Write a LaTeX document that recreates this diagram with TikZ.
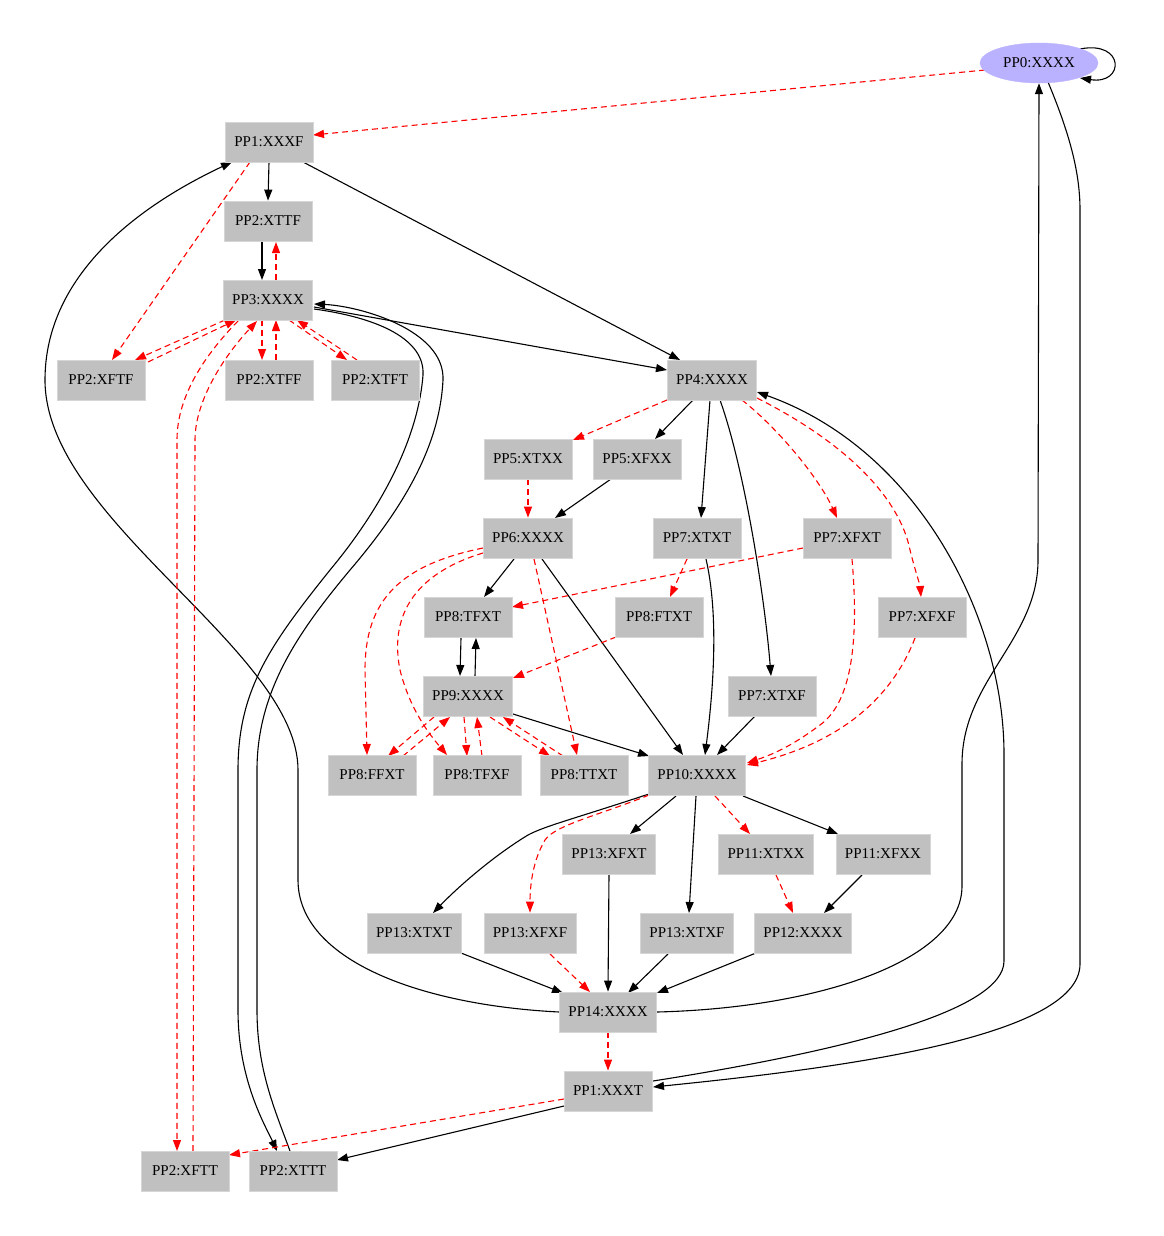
\documentclass[tikz,border=0pt]{standalone}
\usepackage{fontspec}
\setmainfont{Liberation Serif}
\usetikzlibrary{arrows.meta,calc,shapes.geometric,backgrounds}
\definecolor{boxfill}{RGB}{192,192,192}
\definecolor{boxline}{RGB}{214,214,214}
\definecolor{ellfill}{RGB}{186,178,255}
\tikzset{
  pbox/.style={rectangle, fill=boxfill, draw=boxline, line width=0.8pt, minimum width=88pt, minimum height=40pt, inner xsep=9pt, font=\fontsize{15}{18}\selectfont},
  pell/.style={ellipse, fill=ellfill, draw=ellfill, minimum width=118pt, minimum height=40pt, inner sep=0pt, font=\fontsize{15}{18}\selectfont},
  blk/.style={draw=black, line width=1.1pt, -{Triangle[length=11pt,width=8pt]}},
  rd/.style={draw=red, line width=1.1pt, dash pattern=on 6pt off 4pt, -{Triangle[length=11pt,width=8pt,fill=red]}},
}
\begin{document}
\begin{tikzpicture}[x=1pt,y=-1pt]
\path[use as bounding box] (0,0) rectangle (1163,1236);
\node[pell] (p0) at (1039,63) {PP0:XXXX};
\node[pbox] (p1f) at (269,142) {PP1:XXXF};
\node[pbox] (p2ttf) at (268,221) {PP2:XTTF};
\node[pbox] (p3) at (268,300) {PP3:XXXX};
\node[pbox] (p2ftf) at (101,380) {PP2:XFTF};
\node[pbox] (p2tff) at (269,380) {PP2:XTFF};
\node[pbox] (p2tft) at (375,380) {PP2:XTFT};
\node[pbox] (p4) at (712,380) {PP4:XXXX};
\node[pbox] (p5tx) at (528,459) {PP5:XTXX};
\node[pbox] (p5fx) at (637,459) {PP5:XFXX};
\node[pbox] (p6) at (528,538) {PP6:XXXX};
\node[pbox] (p7txt) at (697,538) {PP7:XTXT};
\node[pbox] (p7fxt) at (847,538) {PP7:XFXT};
\node[pbox] (p8tfxt) at (468,617) {PP8:TFXT};
\node[pbox] (p8ftxt) at (659,617) {PP8:FTXT};
\node[pbox] (p7fxf) at (922,617) {PP7:XFXF};
\node[pbox] (p9) at (468,696) {PP9:XXXX};
\node[pbox] (p7txf) at (772,696) {PP7:XTXF};
\node[pbox] (p8ffxt) at (372,775) {PP8:FFXT};
\node[pbox] (p8tfxf) at (477,775) {PP8:TFXF};
\node[pbox] (p8ttxt) at (584,775) {PP8:TTXT};
\node[pbox] (p10) at (697,775) {PP10:XXXX};
\node[pbox] (p13fxt) at (609,854) {PP13:XFXT};
\node[pbox] (p11tx) at (766,854) {PP11:XTXX};
\node[pbox] (p11fx) at (883,854) {PP11:XFXX};
\node[pbox] (p13txt) at (414,933) {PP13:XTXT};
\node[pbox] (p13fxf) at (530,933) {PP13:XFXF};
\node[pbox] (p13txf) at (687,933) {PP13:XTXF};
\node[pbox] (p12) at (803,933) {PP12:XXXX};
\node[pbox] (p14) at (608,1012) {PP14:XXXX};
\node[pbox] (p1t) at (608,1091) {PP1:XXXT};
\node[pbox] (p2ftt) at (185,1171) {PP2:XFTT};
\node[pbox] (p2ttt) at (293,1171) {PP2:XTTT};

\begin{pgfonlayer}{background}
% black edges
\draw[blk] ($(p0)+(41,-14)$) .. controls ($(p0)+(86,-23)$) and ($(p0)+(86,22)$) .. ($(p0)+(41,15)$);
\draw[blk] (p1f.south) -- (p2ttf.north);
\draw[blk] ($(p1f)+(34,20)$) -- ($(p4)+(-32,-20)$);
\draw[blk] ($(p2ttf)+(-6,21)$) -- ($(p3)+(-6,-20)$);
\draw[blk] ($(p3)+(46,7)$) -- ($(p4)+(-45,-10)$);
\draw[blk] ($(p4)+(-19,20)$) -- ($(p5fx)+(18,-20)$);
\draw[blk] ($(p4)+(-2,20)$) -- ($(p7txt)+(4,-20)$);
\draw[blk] ($(p4)+(8,20)$) .. controls (745,470) and (765,600) .. ($(p7txf)+(-1,-20)$);
\draw[blk] ($(p5fx)+(-26,20)$) -- ($(p6)+(27,-20)$);
\draw[blk] ($(p6)+(-14,21)$) -- ($(p8tfxt)+(16,-20)$);
\draw[blk] ($(p6)+(14,21)$) -- ($(p10)+(-14,-20)$);
\draw[blk] ($(p7txt)+(9,21)$) .. controls (720,620) and (712,700) .. ($(p10)+(8,-20)$);
\draw[blk] ($(p7txf)+(-17,20)$) -- ($(p10)+(20,-20)$);
\draw[blk] ($(p8tfxt)+(-7,21)$) -- ($(p9)+(-8,-20)$);
\draw[blk] ($(p9)+(7,-20)$) -- ($(p8tfxt)+(8,21)$);
\draw[blk] ($(p9)+(45,18)$) -- ($(p10)+(-48,-19)$);
\draw[blk] ($(p10)+(-21,21)$) -- ($(p13fxt)+(21,-20)$);
\draw[blk] ($(p10)+(-1,21)$) -- ($(p13txf)+(2,-20)$);
\draw[blk] ($(p10)+(46,21)$) -- ($(p11fx)+(-45,-20)$);
\draw[blk] ($(p10)+(-48,19)$) .. controls (570,820) and (545,826) .. (528,835) .. controls (495,855) and (460,885) .. ($(p13txt)+(19,-20)$);
\draw[blk] ($(p11fx)+(-21,21)$) -- ($(p12)+(21,-20)$);
\draw[blk] ($(p13txt)+(47,20)$) -- ($(p14)+(-45,-19)$);
\draw[blk] (p13fxt.south) -- (p14.north);
\draw[blk] ($(p13txf)+(-19,21)$) -- ($(p14)+(20,-19)$);
\draw[blk] ($(p12)+(-47,20)$) -- ($(p14)+(49,-19)$);
\draw[blk] (p14.west) .. controls (420,1005) and (298,960) .. (298,880) -- (298,770) .. controls (298,650) and (45,520) .. (45,380) .. controls (45,280) and (130,210) .. ($(p1f)+(-37,20)$);
\draw[blk] (p14.east) .. controls (820,1008) and (962,960) .. (962,886) -- (962,764) .. controls (962,680) and (1038,640) .. (1038,560) -- (p0.south);
\draw[blk] ($(p0)+(9,19)$) .. controls (1068,130) and (1080,170) .. (1080,210) -- (1080,964) .. controls (1080,1040) and (820,1070) .. ($(p1t)+(45,-4)$);
\draw[blk] ($(p1t)+(45,-10)$) .. controls (850,1050) and (1004,1010) .. (1004,961) -- (1004,754) .. controls (1004,620) and (920,450) .. ($(p4)+(45,12)$);
\draw[blk] ($(p1t)+(-44,15)$) -- ($(p2ttt)+(44,-11)$);
\draw[blk] ($(p3)+(46,9)$) .. controls (380,318) and (425,340) .. (423,375) .. controls (418,440) and (380,510) .. (330,570) .. controls (270,645) and (238,690) .. (238,770) -- (238,1010) .. controls (238,1080) and (265,1125) .. ($(p2ttt)+(-16,-20)$);
\draw[blk] ($(p2ttt)+(-3,-20)$) .. controls (275,1110) and (257,1070) .. (257,1010) -- (257,770) .. controls (257,690) and (300,630) .. (350,570) .. controls (410,500) and (440,440) .. (443,380) .. controls (445,330) and (360,306) .. ($(p3)+(46,4)$);
% red dashed edges
\draw[rd] ($(p0)+(-54,7)$) -- ($(p1f)+(44,-7)$);
\draw[rd] ($(p1f)+(-19,20)$) -- ($(p2ftf)+(11,-20)$);
\draw[rd] ($(p3)+(8,-20)$) -- ($(p2ttf)+(8,21)$);
\draw[rd] ($(p3)+(-43,20)$) -- ($(p2ftf)+(34,-20)$);
\draw[rd] ($(p2ftf)+(47,-18)$) -- ($(p3)+(-32,20)$);
\draw[rd] ($(p3)+(-6,20)$) -- ($(p2tff)+(-7,-20)$);
\draw[rd] ($(p2tff)+(7,-20)$) -- ($(p3)+(8,20)$);
\draw[rd] ($(p3)+(21,20)$) -- ($(p2tft)+(-28,-20)$);
\draw[rd] ($(p2tft)+(-18,-20)$) -- ($(p3)+(29,20)$);
\draw[rd] ($(p3)+(-30,21)$) .. controls (200,360) and (177,400) .. (177,440) -- ($(p2ftt)+(-8,-20)$);
\draw[rd] ($(p2ftt)+(8,-20)$) -- (195,440) .. controls (195,400) and (225,355) .. ($(p3)+(-11,21)$);
\draw[rd] ($(p4)+(-45,20)$) -- ($(p5tx)+(45,-19)$);
\draw[rd] ($(p4)+(30,20)$) .. controls (780,430) and (820,480) .. ($(p7fxt)+(-10,-20)$);
\draw[rd] ($(p4)+(45,18)$) .. controls (850,445) and (900,500) .. (910,550) .. controls (915,570) and (920,585) .. ($(p7fxf)+(-1,-20)$);
\draw[rd] (p5tx.south) -- (p6.north);
\draw[rd] ($(p6)+(-45,10)$) .. controls (400,565) and (365,600) .. (365,670) -- ($(p8ffxt)+(-5,-20)$);
\draw[rd] ($(p6)+(-45,15)$) .. controls (410,575) and (390,620) .. (400,670) .. controls (410,710) and (430,735) .. ($(p8tfxf)+(-30,-20)$);
\draw[rd] ($(p6)+(6,21)$) -- ($(p8ttxt)+(-7,-20)$);
\draw[rd] ($(p7fxt)+(-44,10)$) -- ($(p8tfxt)+(44,-10)$);
\draw[rd] ($(p7txt)+(-10,21)$) -- ($(p8ftxt)+(11,-20)$);
\draw[rd] ($(p7fxt)+(5,21)$) .. controls (858,630) and (855,700) .. (820,725) .. controls (800,740) and (780,752) .. ($(p10)+(50,-12)$);
\draw[rd] ($(p7fxf)+(-7,21)$) .. controls (895,690) and (850,740) .. ($(p10)+(50,-10)$);
\draw[rd] ($(p8ftxt)+(-43,20)$) -- ($(p9)+(45,-18)$);
\draw[rd] ($(p9)+(-34,21)$) -- ($(p8ffxt)+(16,-19)$);
\draw[rd] ($(p8ffxt)+(31,-19)$) -- ($(p9)+(-18,21)$);
\draw[rd] ($(p9)+(-4,21)$) -- ($(p8tfxf)+(-10,-19)$);
\draw[rd] ($(p8tfxf)+(5,-19)$) -- ($(p9)+(9,21)$);
\draw[rd] ($(p9)+(22,21)$) -- ($(p8ttxt)+(-34,-19)$);
\draw[rd] ($(p8ttxt)+(-21,-19)$) -- ($(p9)+(35,21)$);
\draw[rd] ($(p10)+(18,21)$) -- ($(p11tx)+(-16,-20)$);
\draw[rd] ($(p10)+(-48,20)$) .. controls (600,815) and (555,825) .. (545,840) .. controls (533,860) and (530,885) .. (p13fxf.north);
\draw[rd] ($(p11tx)+(10,21)$) -- ($(p12)+(-10,-20)$);
\draw[rd] ($(p13fxf)+(20,21)$) -- ($(p14)+(-18,-20)$);
\draw[rd] (p14.south) -- (p1t.north);
\draw[rd] ($(p1t)+(-44,8)$) -- ($(p2ftt)+(44,-16)$);
\end{pgfonlayer}
\end{tikzpicture}
\end{document}
